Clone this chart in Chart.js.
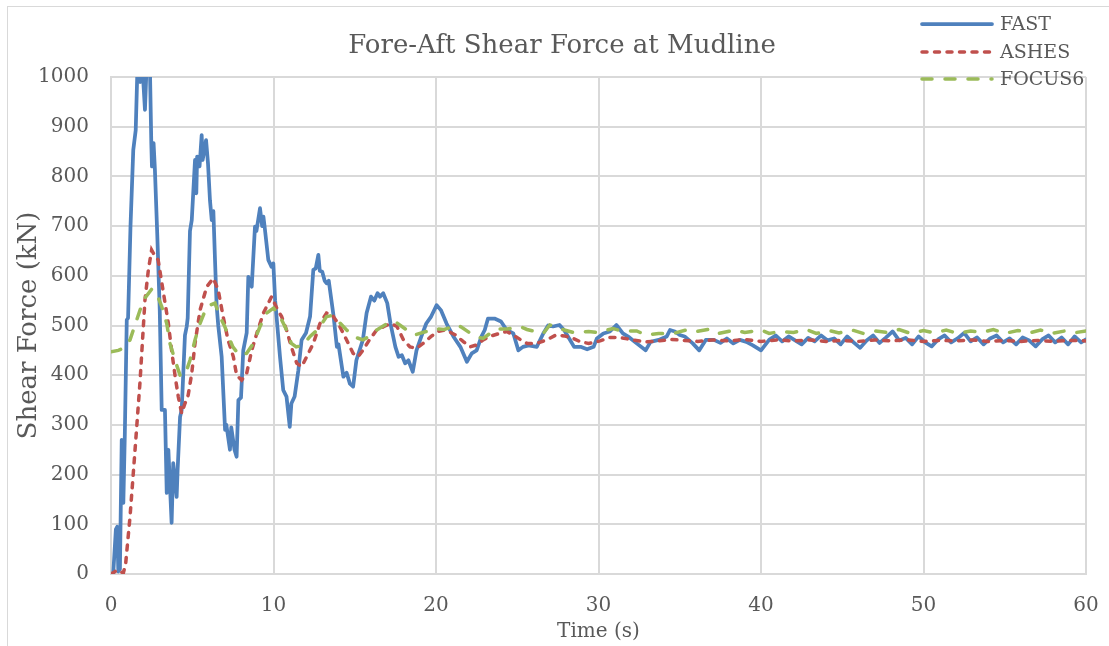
<!DOCTYPE html>
<html>
<head>
<meta charset="utf-8">
<script src="https://cdn.jsdelivr.net/npm/chart.js@4.4.0/dist/chart.umd.min.js"></script>
<style>
  html, body { margin: 0; padding: 0; background: #fff; overflow: hidden; }
  .frame {
    position: absolute; left: 7px; top: 6px; width: 1200px; height: 700px;
    border-top: 1.5px solid #d9d9d9; border-left: 1.5px solid #d9d9d9;
  }
  .wrap { position: absolute; left: 0; top: 0; width: 1109px; height: 646px; }
</style>
</head>
<body>
<div class="frame"></div>
<div class="wrap"><canvas id="shearChart" width="1109" height="646"></canvas></div>
<script>
// Time (s) / shear force (kN)
const fastTime = [0, 0.14, 0.3, 0.38, 0.45, 0.55, 0.66, 0.76, 0.85, 0.97, 1.05, 1.2, 1.37, 1.52, 1.62, 1.8, 1.9, 2.09, 2.2, 2.4, 2.48, 2.52, 2.62, 2.7, 2.85, 3.0, 3.12, 3.32, 3.43, 3.53, 3.73, 3.83, 4.04, 4.1, 4.25, 4.35, 4.55, 4.66, 4.72, 4.86, 4.97, 5.17, 5.25, 5.3, 5.45, 5.58, 5.64, 5.85, 5.97, 6.09, 6.2, 6.3, 6.4, 6.5, 6.6, 6.81, 7.02, 7.1, 7.32, 7.4, 7.6, 7.73, 7.84, 8.0, 8.14, 8.35, 8.45, 8.66, 8.86, 8.95, 9.17, 9.3, 9.38, 9.45, 9.68, 9.88, 9.99, 10.1, 10.4, 10.6, 10.8, 11.0, 11.1, 11.3, 11.53, 11.73, 12.0, 12.25, 12.45, 12.6, 12.76, 12.85, 13.0, 13.15, 13.27, 13.4, 13.7, 13.9, 14.0, 14.3, 14.5, 14.7, 14.9, 15.1, 15.5, 15.73, 16.0, 16.2, 16.4, 16.55, 16.75, 17.0, 17.2, 17.5, 17.7, 17.9, 18.1, 18.3, 18.57, 18.8, 19.1, 19.4, 19.7, 20.04, 20.3, 20.65, 21.07, 21.5, 21.9, 22.2, 22.5, 22.8, 23.0, 23.2, 23.6, 24.0, 24.35, 24.76, 25.07, 25.35, 25.7, 26.2, 26.6, 26.9, 27.2, 27.6, 27.9, 28.25, 28.5, 28.9, 29.3, 29.7, 29.9, 30.3, 30.7, 31.1, 31.5, 31.9, 32.35, 32.9, 33.2, 33.7, 34.2, 34.4, 34.7, 35.0, 35.3, 35.8, 36.2, 36.6, 37.1, 37.5, 37.9, 38.3, 38.7, 39.1, 39.5, 40.0, 40.5, 40.9, 41.3, 41.7, 42.1, 42.5, 42.9, 43.3, 43.7, 44.1, 44.5, 44.9, 45.3, 45.7, 46.1, 46.5, 46.9, 47.3, 47.7, 48.1, 48.5, 48.9, 49.3, 49.7, 50.1, 50.5, 50.9, 51.3, 51.7, 52.1, 52.5, 52.9, 53.3, 53.7, 54.1, 54.5, 54.9, 55.3, 55.7, 56.1, 56.5, 56.9, 57.3, 57.7, 58.1, 58.5, 58.9, 59.3, 59.7, 60.0]
const fastForce = [0, 2, 90, 95, 5, 10, 270, 143, 280, 511, 515, 700, 853, 893, 1010, 990, 1040, 934, 1030, 1010, 867, 820, 867, 815, 680, 531, 330, 330, 163, 250, 103, 223, 155, 210, 316, 330, 480, 498, 515, 690, 712, 833, 766, 840, 820, 883, 833, 873, 826, 752, 712, 730, 632, 540, 500, 437, 290, 300, 250, 295, 250, 236, 350, 355, 450, 485, 598, 578, 699, 690, 736, 700, 719, 700, 632, 618, 625, 551, 437, 370, 357, 296, 343, 357, 410, 471, 485, 518, 612, 615, 642, 610, 608, 590, 585, 590, 518, 457, 462, 397, 405, 383, 377, 430, 471, 525, 558, 550, 565, 558, 565, 545, 504, 457, 437, 440, 424, 430, 407, 450, 478, 504, 518, 541, 531, 504, 478, 457, 427, 444, 450, 478, 491, 514, 514, 508, 491, 484, 450, 457, 460, 457, 484, 500, 498, 501, 490, 471, 457, 457, 452, 457, 474, 484, 488, 501, 484, 476, 464, 450, 467, 471, 478, 491, 488, 481, 478, 464, 450, 471, 471, 465, 474, 464, 471, 467, 460, 450, 471, 480, 468, 478, 470, 462, 475, 468, 480, 470, 474, 462, 478, 466, 455, 470, 480, 465, 476, 488, 470, 475, 462, 478, 466, 458, 472, 480, 466, 474, 485, 468, 476, 462, 474, 480, 466, 474, 462, 476, 470, 458, 472, 480, 466, 476, 462, 478, 466, 472]

const ashesTime = [0, 0.4, 0.76, 0.9, 1.17, 1.48, 1.78, 2.09, 2.3, 2.5, 2.7, 2.9, 3.2, 3.53, 3.73, 3.95, 4.14, 4.35, 4.55, 4.75, 4.97, 5.17, 5.48, 5.89, 6.3, 6.6, 6.9, 7.2, 7.53, 7.73, 8.04, 8.35, 8.66, 8.97, 9.38, 9.68, 9.88, 10.2, 10.5, 10.8, 11.1, 11.43, 11.73, 12.04, 12.45, 12.86, 13.27, 13.6, 13.98, 14.3, 14.6, 14.9, 15.2, 15.5, 15.9, 16.35, 16.8, 17.2, 17.6, 18.0, 18.4, 18.8, 19.2, 19.7, 20.1, 20.6, 21.2, 21.7, 22.1, 22.5, 22.9, 23.3, 23.9, 24.35, 24.76, 25.17, 25.6, 26.2, 26.8, 27.4, 27.9, 28.45, 28.9, 29.4, 30.1, 30.7, 31.3, 32.1, 32.9, 33.7, 34.5, 35.3, 36.1, 37, 38, 39, 40, 41, 42, 43, 44, 45, 46, 47, 48, 49, 50, 51, 52, 53, 54, 55, 56, 57, 58, 59, 60]
const ashesForce = [0, 8, 2, 20, 115, 250, 384, 551, 612, 652, 640, 632, 571, 504, 450, 397, 357, 323, 343, 360, 404, 464, 531, 578, 595, 571, 518, 471, 437, 400, 390, 404, 450, 484, 525, 545, 558, 535, 518, 491, 457, 424, 417, 437, 464, 504, 525, 522, 504, 484, 464, 444, 437, 450, 471, 491, 498, 504, 498, 471, 457, 454, 464, 478, 488, 491, 481, 467, 457, 461, 471, 478, 484, 488, 481, 472, 464, 464, 471, 481, 479, 474, 467, 464, 469, 476, 476, 471, 467, 469, 472, 470, 468, 471, 469, 472, 468, 471, 469, 471, 468, 470, 468, 471, 469, 471, 468, 470, 469, 471, 468, 470, 468, 470, 468, 470, 469]

const focusTime = [0, 0.45, 0.8, 1.17, 1.58, 1.99, 2.5, 2.8, 3.12, 3.43, 3.63, 3.94, 4.25, 4.55, 4.86, 5.17, 5.48, 5.89, 6.4, 6.7, 7.0, 7.32, 7.5, 7.9, 8.35, 8.76, 9.17, 9.58, 10.0, 10.4, 10.8, 11.1, 11.4, 11.8, 12.25, 12.7, 13.27, 13.6, 14.0, 14.5, 14.9, 15.5, 15.9, 16.35, 16.8, 17.2, 17.6, 18.2, 18.7, 19.4, 19.9, 20.5, 21.3, 21.6, 22.4, 22.9, 23.7, 24.4, 25.17, 25.6, 26.6, 27.0, 27.9, 28.45, 29.4, 29.9, 30.9, 31.4, 32.35, 32.9, 33.7, 34.6, 35.4, 35.9, 36.9, 37.4, 38.4, 39.0, 40.0, 40.5, 41.2, 42, 42.8, 43.4, 44.2, 44.8, 45.6, 46.3, 47.0, 47.8, 48.5, 49.2, 50.0, 50.7, 51.4, 52.1, 52.9, 53.6, 54.3, 55.0, 55.8, 56.5, 57.2, 57.9, 58.7, 59.4, 60.0]
const focusForce = [447, 450, 455, 471, 511, 551, 573, 565, 538, 504, 464, 430, 400, 400, 430, 471, 504, 538, 545, 518, 498, 471, 457, 440, 444, 464, 498, 525, 535, 518, 491, 464, 457, 460, 478, 491, 518, 520, 508, 491, 478, 471, 478, 491, 500, 508, 505, 491, 481, 488, 494, 492, 501, 496, 478, 474, 493, 493, 498, 492, 484, 501, 491, 486, 488, 486, 494, 489, 489, 481, 484, 484, 491, 487, 493, 484, 491, 486, 491, 484, 488, 486, 492, 484, 490, 485, 491, 484, 489, 486, 492, 484, 490, 485, 491, 484, 489, 486, 492, 484, 490, 485, 491, 484, 489, 486, 489]

const seriesNames = ['FAST', 'ASHES', 'FOCUS6']
const timeTicks = [0, 10, 20, 30, 40, 50, 60]
const forceTicks = [0, 100, 200, 300, 400, 500, 600, 700, 800, 900, 1000]
const chartTitle = 'Fore-Aft Shear Force at Mudline'

const toPoints = (ts, vs) => ts.map((t, i) => ({ x: t, y: vs[i] }))

const serif = 'DejaVu Serif'
const textGrey = '#595959'
const gridGrey = '#d9d9d9'

// title is centred a little right of the canvas middle, like the original
const offsetTitle = {
  id: 'offsetTitle',
  afterDraw(chart) {
    const ctx = chart.ctx
    ctx.save()
    ctx.fillStyle = textGrey
    ctx.font = '26px "' + serif + '"'
    ctx.textAlign = 'center'
    ctx.textBaseline = 'middle'
    ctx.fillText(chartTitle, 562, 46)
    ctx.restore()
  },
}

// legend sits in the top-right corner, partly over the plot
const cornerLegend = {
  id: 'cornerLegend',
  afterDraw(chart) {
    const ctx = chart.ctx
    const x0 = 922, x1 = 992, rows = [24, 52, 79]
    ctx.save()
    chart.data.datasets.forEach((ds, i) => {
      const y = rows[i]
      ctx.beginPath()
      ctx.strokeStyle = ds.borderColor
      ctx.lineWidth = ds.borderWidth
      ctx.lineCap = ds.borderCapStyle || 'butt'
      ctx.setLineDash(ds.borderDash || [])
      ctx.moveTo(x0, y)
      ctx.lineTo(x1, y)
      ctx.stroke()
      ctx.setLineDash([])
      ctx.fillStyle = textGrey
      ctx.font = '19px "' + serif + '"'
      ctx.textBaseline = 'middle'
      ctx.fillText(ds.label, 1000, y + 1)
    })
    ctx.restore()
  },
}

const ctx = document.getElementById('shearChart').getContext('2d')
const shearChart = new Chart(ctx, {
  type: 'line',
  data: {
    datasets: [
      {
        label: seriesNames[0],
        data: toPoints(fastTime, fastForce),
        borderColor: '#4f81bd',
        borderWidth: 3.75,
        borderJoinStyle: 'round',
        borderCapStyle: 'round',
        order: 3,
      },
      {
        label: seriesNames[1],
        data: toPoints(ashesTime, ashesForce),
        borderColor: '#c0504d',
        borderWidth: 3.5,
        borderDash: [5, 7.5],
        borderCapStyle: 'round',
        order: 2,
      },
      {
        label: seriesNames[2],
        data: toPoints(focusTime, focusForce),
        borderColor: '#9bbb59',
        borderWidth: 3.5,
        borderDash: [10, 13],
        borderCapStyle: 'round',
        order: 1,
      },
    ],
  },
  options: {
    responsive: false,
    animation: false,
    elements: { point: { radius: 0 }, line: { tension: 0 } },
    layout: { padding: { left: 0, right: 23, top: 77, bottom: 0 } },
    plugins: {
      legend: { display: false },
      tooltip: { enabled: false },
      title: { display: false },
    },
    scales: {
      x: {
        type: 'linear',
        min: 0,
        max: 60,
        afterBuildTicks: (scale) => { scale.ticks = timeTicks.map(v => ({ value: v })) },
        afterFit: (scale) => {
          scale.height = 72
          scale.paddingLeft = 0
          scale.paddingRight = 0
        },
        ticks: { color: textGrey, font: { family: serif, size: 20 }, padding: 20, maxRotation: 0, callback: v => String(v) },
        grid: { color: gridGrey, lineWidth: 2, drawTicks: false },
        border: { color: gridGrey, width: 2 },
        title: {
          display: true,
          text: 'Time (s)',
          color: textGrey,
          font: { family: serif, size: 20 },
          padding: { top: 0, bottom: 2 },
        },
      },
      y: {
        min: 0,
        max: 1000,
        afterBuildTicks: (scale) => { scale.ticks = forceTicks.map(v => ({ value: v })) },
        afterFit: (scale) => { scale.width = 111 },
        ticks: { color: textGrey, font: { family: serif, size: 20 }, padding: 22, callback: v => String(v) },
        grid: { color: gridGrey, lineWidth: 2, drawTicks: false },
        border: { color: gridGrey, width: 2 },
        title: {
          display: true,
          text: 'Shear Force (kN)',
          color: textGrey,
          font: { family: serif, size: 26 },
          padding: { top: 14, bottom: 0 },
        },
      },
    },
  },
  plugins: [offsetTitle, cornerLegend],
})
</script>
</body>
</html>
